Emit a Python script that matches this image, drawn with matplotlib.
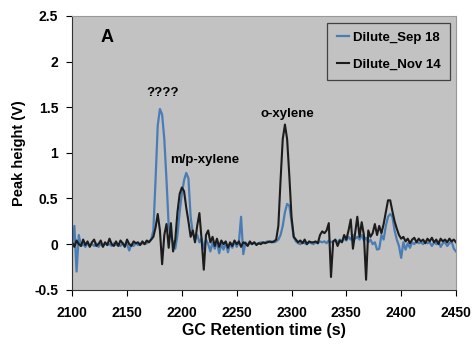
import matplotlib.pyplot as plt
import numpy as np

# retention time grid (s), 2 s step
t = np.arange(2100, 2451, 2)

# Dilute_Sep 18 (blue)
sep18 = [
    0.00, 0.20, -0.30, 0.10, -0.02, 0.00, -0.03, 0.01, -0.02, 0.00,     # 2100
    -0.02, 0.01, -0.03, 0.00, -0.02, 0.01, -0.01, 0.00, -0.02, 0.01,    # 2120
    -0.01, 0.00, -0.02, 0.01, -0.01, 0.00, -0.07, 0.00, -0.02, 0.01,    # 2140
    -0.01, 0.00, 0.01, 0.00, 0.01, 0.03, 0.05, 0.15, 0.70, 1.30,        # 2160
    1.48, 1.42, 1.15, 0.70, 0.20, 0.08, 0.02, -0.05, 0.10, 0.35,        # 2180
    0.55, 0.70, 0.78, 0.72, 0.30, 0.12, 0.05, 0.10, 0.02, 0.06,         # 2200
    -0.05, 0.05, 0.00, -0.08, 0.02, -0.05, 0.03, -0.10, 0.00, -0.06,    # 2220
    0.02, -0.09, 0.01, -0.04, 0.03, -0.03, 0.02, 0.30, -0.11, 0.02,     # 2240
    -0.01, 0.01, 0.00, 0.02, 0.00, 0.01, 0.02, 0.01, 0.02, 0.03,        # 2260
    0.02, 0.03, 0.02, 0.03, 0.05, 0.10, 0.20, 0.35, 0.44, 0.42,         # 2280
    0.25, 0.08, 0.03, 0.01, 0.00, 0.02, 0.01, 0.00, 0.02, 0.01,         # 2300
    0.00, 0.02, 0.01, 0.03, 0.02, 0.03, 0.01, 0.04, 0.02, 0.03,         # 2320
    0.04, 0.02, 0.05, 0.03, 0.06, 0.04, 0.08, 0.05, 0.10, 0.06,         # 2340
    0.08, 0.05, 0.10, 0.04, 0.07, 0.02, 0.05, 0.00, 0.02, -0.06,        # 2360
    -0.05, 0.10, 0.05, 0.20, 0.30, 0.33, 0.30, 0.15, 0.05, -0.02,       # 2380
    -0.15, 0.02, -0.06, 0.01, -0.04, 0.02, 0.00, 0.03, 0.01, 0.02,      # 2400
    0.00, 0.03, 0.01, 0.02, -0.02, 0.02, 0.00, 0.03, -0.03, 0.01,       # 2420
    0.02, -0.02, 0.01, 0.03, -0.05, -0.08,                              # 2440
]

# Dilute_Nov 14 (black)
nov14 = [
    0.02, -0.03, 0.04, 0.00, -0.02, 0.05, -0.01, 0.03, -0.03, 0.02,     # 2100
    0.05, -0.02, 0.00, 0.04, -0.03, 0.02, -0.01, 0.06, 0.00, -0.02,     # 2120
    0.03, -0.02, 0.04, 0.01, -0.03, 0.05, 0.00, -0.02, 0.03, 0.01,      # 2140
    0.02, -0.01, 0.03, 0.00, 0.04, 0.02, 0.05, 0.08, 0.18, 0.33,        # 2160
    0.15, -0.22, 0.10, 0.22, -0.04, 0.23, -0.08, 0.05, 0.35, 0.55,      # 2180
    0.62, 0.58, 0.40, 0.25, 0.08, 0.15, 0.02, 0.20, 0.34, 0.05,         # 2200
    -0.28, 0.10, 0.15, 0.02, 0.08, -0.02, 0.06, -0.03, 0.04, 0.00,      # 2220
    0.03, -0.04, 0.02, -0.02, 0.04, 0.00, 0.03, -0.03, 0.02, 0.01,      # 2240
    -0.02, 0.03, 0.00, 0.02, -0.01, 0.01, 0.00, 0.02, 0.01, 0.02,       # 2260
    0.03, 0.02, 0.03, 0.05, 0.20, 0.70, 1.15, 1.31, 1.15, 0.75,         # 2280
    0.30, 0.08, 0.05, 0.02, 0.04, 0.01, 0.05, 0.00, 0.03, 0.02,         # 2300
    0.02, 0.03, 0.01, 0.10, 0.14, 0.12, 0.15, 0.23, -0.36, 0.03,        # 2320
    0.05, -0.02, 0.04, 0.02, 0.10, 0.05, 0.15, 0.27, -0.05, 0.12,       # 2340
    0.30, 0.08, 0.24, 0.10, -0.39, 0.15, 0.08, 0.12, 0.22, 0.10,        # 2360
    0.20, 0.12, 0.22, 0.35, 0.48, 0.48, 0.36, 0.25, 0.17, 0.10,         # 2380
    0.06, 0.08, 0.03, 0.06, 0.01, 0.05, 0.07, 0.02, 0.06, 0.03,         # 2400
    0.05, 0.01, 0.06, 0.03, 0.07, 0.02, 0.05, 0.00, 0.06, 0.03,         # 2420
    0.05, 0.02, 0.06, 0.03, 0.05, 0.02,                                 # 2440
]

plt.rcParams['font.family'] = ['Liberation Sans', 'DejaVu Sans']

fig = plt.figure(figsize=(4.75, 3.45), dpi=100)
ax = fig.add_axes([0.152, 0.16, 0.808, 0.794])
ax.set_facecolor('#c2c2c2')

ax.plot(t, sep18, color='#4a7db5', lw=1.6, label='Dilute_Sep 18')
ax.plot(t, nov14, color='#1c1c1c', lw=1.5, label='Dilute_Nov 14')

ax.set_xlim(2100, 2450)
ax.set_ylim(-0.5, 2.5)
ax.set_xticks(np.arange(2100, 2451, 50))
ax.set_yticks([-0.5, 0, 0.5, 1, 1.5, 2, 2.5])
ax.set_yticklabels(['-0.5', '0', '0.5', '1', '1.5', '2', '2.5'])
ax.tick_params(direction='out', length=4, width=0.8, labelsize=10)
ax.tick_params(axis='x', pad=8)
ax.tick_params(axis='y', pad=6)
for lab in ax.get_xticklabels() + ax.get_yticklabels():
    lab.set_fontweight('bold')
for s in ['top', 'right']:
    ax.spines[s].set_color('#999999')
for s in ['left', 'bottom']:
    ax.spines[s].set_color('#333333')

ax.set_xlabel('GC Retention time (s)', fontsize=11.5, fontweight='bold', labelpad=2)
ax.set_ylabel('Peak height (V)', fontsize=10.5, fontweight='bold', labelpad=6)

ax.text(2132, 2.26, 'A', fontsize=13, fontweight='bold', ha='center', va='center')
ax.text(2182.6, 1.66, '????', fontsize=9.5, fontweight='bold', ha='center', va='center')
ax.text(2221, 0.92, 'm/p-xylene', fontsize=9.5, fontweight='bold', ha='center', va='center')
ax.text(2296.5, 1.43, 'o-xylene', fontsize=9.5, fontweight='bold', ha='center', va='center')

leg = ax.legend(loc='upper right', bbox_to_anchor=(0.99, 0.985), fontsize=9.5,
                handlelength=0.9, handletextpad=0.3, labelspacing=1.1,
                fancybox=False, frameon=True, borderpad=0.7, borderaxespad=0.2)
leg.get_frame().set_facecolor('#c2c2c2')
leg.get_frame().set_edgecolor('#222222')
leg.get_frame().set_linewidth(0.9)
for txt in leg.get_texts():
    txt.set_fontweight('bold')

fig.savefig('out.png', dpi=100)
